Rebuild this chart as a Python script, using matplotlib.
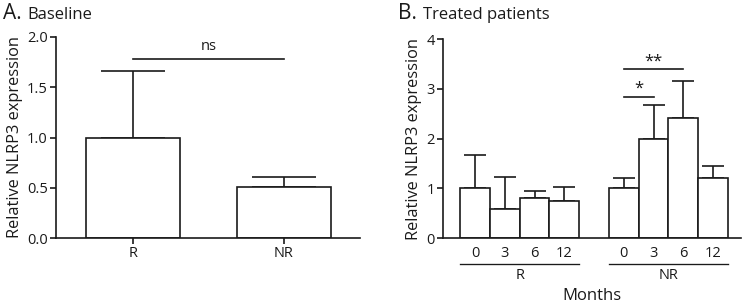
import numpy as np
import matplotlib.pyplot as plt
import matplotlib.transforms as mtransforms

plt.rcParams['font.family'] = ['Open Sans', 'DejaVu Sans']

# --------------------
# Data
# --------------------
base_groups = ["R", "NR"]
base_mean = [1.00, 0.51]
base_err = [0.66, 0.10]

months = ["0", "3", "6", "12"]
treat_r_mean = [1.00, 0.58, 0.80, 0.75]
treat_r_err = [0.66, 0.65, 0.14, 0.28]
treat_nr_mean = [1.00, 1.99, 2.41, 1.20]
treat_nr_err = [0.20, 0.69, 0.75, 0.24]

INK = "#1a1a1a"
LW = 1.2
TICK_FS = 10.5

fig = plt.figure(figsize=(7.47, 3.03), dpi=100)
W, H = 747, 303


def px_axes(x0, x1, ytop, ybot):
    return fig.add_axes([x0 / W, (H - ybot) / H, (x1 - x0) / W, (ybot - ytop) / H])


def style(ax):
    for s in ["top", "right"]:
        ax.spines[s].set_visible(False)
    for s in ["left", "bottom"]:
        ax.spines[s].set_linewidth(LW)
        ax.spines[s].set_color(INK)
    ax.tick_params(width=LW, length=4, color=INK, labelsize=TICK_FS, labelcolor=INK, pad=2)
    ax.set_ylabel("Relative NLRP3 expression", fontsize=11.8, color=INK, labelpad=3)


def bars(ax, x, mean, err, width, capsz):
    ax.bar(x, mean, width=width, color="white", edgecolor=INK, linewidth=LW, zorder=2)
    ax.errorbar(x, np.array(mean) + np.array(err) / 2, yerr=np.array(err) / 2,
                fmt="none", ecolor=INK, elinewidth=LW, capsize=capsz, capthick=LW, zorder=1)


# --------------------
# Panel A
# --------------------
axA = px_axes(56, 360, 37, 238)
style(axA)
xa = np.arange(len(base_groups))
bars(axA, xa, base_mean, base_err, 0.62, 23)
axA.set_xlim(-0.51, 1.503)
axA.set_ylim(0, 2.0)
axA.set_yticks([0, 0.5, 1.0, 1.5, 2.0])
axA.set_yticklabels(["0.0", "0.5", "1.0", "1.5", "2.0"])
axA.set_xticks(xa)
axA.set_xticklabels(base_groups)
axA.plot([0, 1], [1.78, 1.78], color=INK, lw=LW, clip_on=False)
axA.text(0.5, 1.83, "ns", ha="center", va="bottom", fontsize=TICK_FS, color=INK)

# --------------------
# Panel B
# --------------------
axB = px_axes(443, 741, 39, 238)
style(axB)
xr = np.arange(4)
xn = np.arange(4) + 5
bars(axB, xr, treat_r_mean, treat_r_err, 1.0, 8)
bars(axB, xn, treat_nr_mean, treat_nr_err, 1.0, 8)
axB.set_xlim(-1.08, 8.94)
axB.set_ylim(0, 4)
axB.set_yticks([0, 1, 2, 3, 4])
axB.set_xticks([])

trans = mtransforms.blended_transform_factory(axB.transData, axB.transAxes)
for xs, grp in [(xr, "R"), (xn, "NR")]:
    for x, m in zip(xs, months):
        axB.text(x, -0.08, m, transform=trans, ha="center", va="center", fontsize=TICK_FS, color=INK)
    axB.plot([xs[0] - 0.5, xs[-1] + 0.5], [-0.131, -0.131], transform=trans,
             color=INK, lw=LW * 0.8, clip_on=False)
    axB.text(np.mean(xs), -0.19, grp, transform=trans, ha="center", va="center", fontsize=TICK_FS, color=INK)
axB.text(0.5, -0.29, "Months", transform=axB.transAxes, ha="center", va="center", fontsize=12, color=INK)

# significance bars
axB.plot([xn[0], xn[1]], [2.84, 2.84], color=INK, lw=LW, clip_on=False)
axB.text((xn[0] + xn[1]) / 2, 2.84, "*", ha="center", va="bottom", fontsize=12, color=INK)
axB.plot([xn[0], xn[2]], [3.39, 3.39], color=INK, lw=LW, clip_on=False)
axB.text((xn[0] + xn[2]) / 2, 3.39, "**", ha="center", va="bottom", fontsize=12, color=INK)

# --------------------
# Panel titles
# --------------------
fig.text(3 / W, 1 - 19 / H, "A.", fontsize=15, color=INK, va="baseline")
fig.text(27 / W, 1 - 19 / H, "Baseline", fontsize=12, color=INK, va="baseline")
fig.text(398 / W, 1 - 19 / H, "B.", fontsize=15, color=INK, va="baseline")
fig.text(423 / W, 1 - 19 / H, "Treated patients", fontsize=12, color=INK, va="baseline")

plt.savefig("out.png", dpi=100)
